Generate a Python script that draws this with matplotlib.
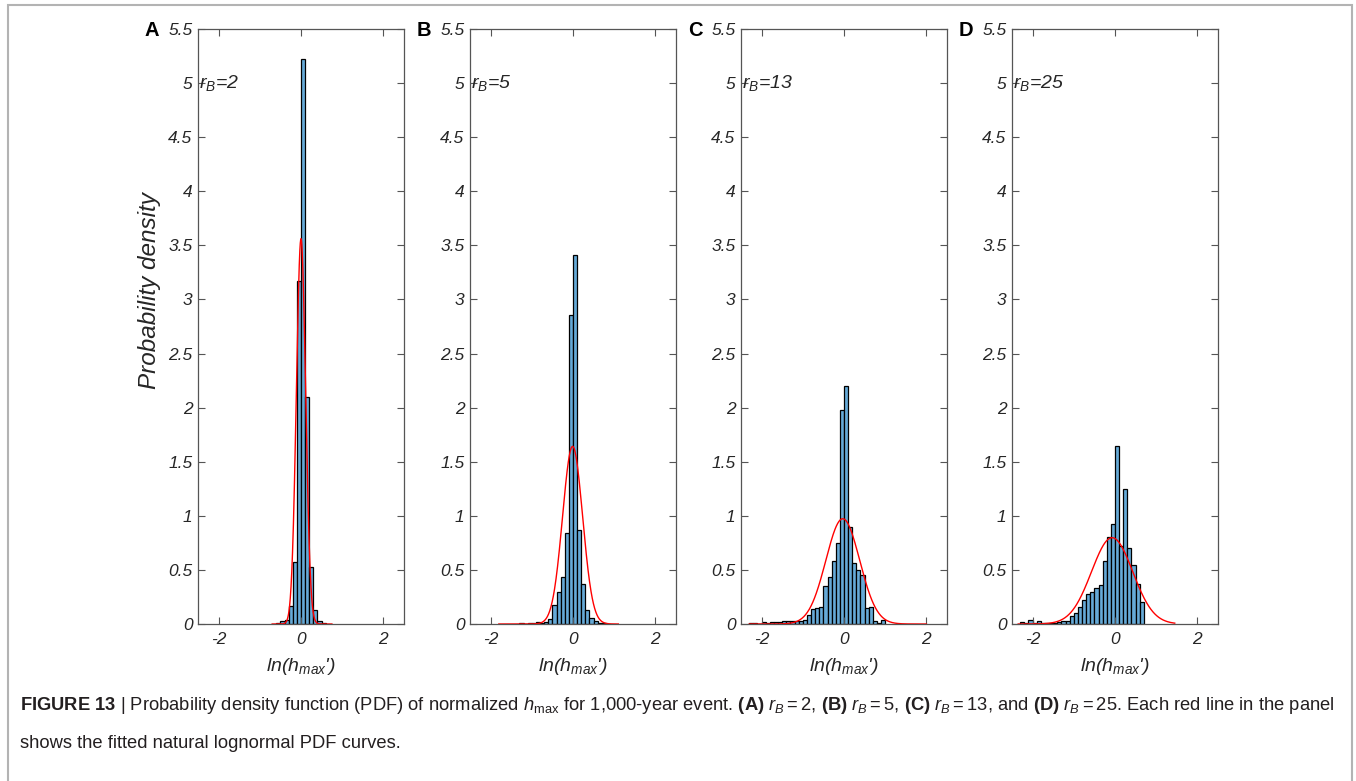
import numpy as np
import matplotlib.pyplot as plt
from matplotlib.patches import Rectangle

plt.rcParams['font.family'] = ['Liberation Sans', 'DejaVu Sans']
plt.rcParams['mathtext.fontset'] = 'custom'
plt.rcParams['mathtext.rm'] = 'Liberation Sans'
plt.rcParams['mathtext.it'] = 'Liberation Sans:italic'
plt.rcParams['mathtext.bf'] = 'Liberation Sans:bold'
plt.rcParams['axes.unicode_minus'] = False

# ---- data ----
panel_names = ['A', 'B', 'C', 'D']
r_b = [2, 5, 13, 25]
bin_w = 0.1

# histogram densities, first bin left edge + heights (bins 0.1 wide)
a_start = -0.6
a_dens = [0.01, 0.03, 0.04, 0.17, 0.57, 3.17, 5.22, 2.10, 0.53, 0.13, 0.03, 0.01]
b_start = -1.3
b_dens = [0.01, 0.0, 0.01, 0.01, 0.02, 0.01, 0.02, 0.05, 0.18, 0.30, 0.43, 0.84,
          2.86, 3.41, 0.87, 0.37, 0.13, 0.06, 0.03, 0.01, 0.01]
c_start = -2.3
c_dens = [0.01, 0.01, 0.0, 0.02, 0.01, 0.02, 0.02, 0.02, 0.03, 0.03, 0.03, 0.03,
          0.03, 0.04, 0.08, 0.14, 0.15, 0.16, 0.35, 0.43, 0.58, 0.75, 1.98, 2.20,
          0.90, 0.56, 0.50, 0.45, 0.15, 0.16, 0.03, 0.01, 0.04]
d_start = -2.3
d_dens = [0.02, 0.01, 0.04, 0.01, 0.03, 0.01, 0.01, 0.01, 0.01, 0.02, 0.03, 0.03,
          0.07, 0.10, 0.16, 0.22, 0.28, 0.30, 0.33, 0.36, 0.58, 0.80, 0.92, 1.65,
          0.72, 1.25, 0.70, 0.55, 0.37, 0.20]

# fitted normal (in ln space) parameters and drawn range
fit_mu = [0.0, -0.01, -0.03, -0.07]
fit_sigma = [0.112, 0.243, 0.41, 0.50]
fit_lo = [-0.7, -1.8, -2.3, -2.35]
fit_hi = [0.75, 1.1, 2.0, 1.45]

starts = [a_start, b_start, c_start, d_start]
dens = [a_dens, b_dens, c_dens, d_dens]

yticks = [0, 0.5, 1, 1.5, 2, 2.5, 3, 3.5, 4, 4.5, 5, 5.5]
ytick_labels = ['0', '0.5', '1', '1.5', '2', '2.5', '3', '3.5', '4', '4.5', '5', '5.5']
xticks = [-2, 0, 2]
xtick_labels = ['-2', '0', '2']

# ---- figure ----
W, H = 1356, 781
fig = plt.figure(figsize=(W / 100, H / 100), dpi=100)

ax_lefts = [198, 470, 741, 1012]
ax_w, ax_top, ax_bot = 206, 29, 624
txt_col = '#262626'

for i in range(4):
    ax = fig.add_axes([ax_lefts[i] / W, 1 - ax_bot / H, ax_w / W, (ax_bot - ax_top) / H])
    edges = starts[i] + bin_w * np.arange(len(dens[i]))
    ax.bar(edges, dens[i], width=bin_w, align='edge', color='#66aad7',
           edgecolor='black', linewidth=0.9)
    xs = np.linspace(fit_lo[i], fit_hi[i], 400)
    pdf = np.exp(-0.5 * ((xs - fit_mu[i]) / fit_sigma[i]) ** 2) / (fit_sigma[i] * np.sqrt(2 * np.pi))
    ax.plot(xs, pdf, color='red', lw=1.0)

    ax.set_xlim(-2.5, 2.5)
    ax.set_ylim(0, 5.5)
    ax.set_xticks(xticks)
    ax.set_xticklabels(xtick_labels)
    ax.set_yticks(yticks)
    ax.set_yticklabels(ytick_labels)
    ax.tick_params(direction='in', top=True, right=True, length=5, width=0.8,
                   color='#555555', labelcolor=txt_col, labelsize=12.5)
    ax.tick_params(axis='y', pad=4)
    ax.tick_params(axis='x', pad=6)
    for lbl in ax.get_xticklabels() + ax.get_yticklabels():
        lbl.set_fontstyle('italic')
    for sp in ax.spines.values():
        sp.set_color('#555555')
        sp.set_linewidth(0.9)

    ax.text(-2.47, 5.0, r'$r_B$=%d' % r_b[i], fontsize=14, fontstyle='italic',
            color=txt_col, ha='left', va='center')
    ax.text(0.5, -0.072, r"ln(h$_{\mathit{max}}$')", transform=ax.transAxes,
            fontsize=14, fontstyle='italic', color=txt_col, ha='center', va='center')
    fig.text((ax_lefts[i] - 46) / W, 1 - 30 / H, panel_names[i], fontsize=14.5,
             fontweight='bold', color='black', ha='center', va='center')
    if i == 0:
        ax.text(-0.235, 0.56, 'Probability density', transform=ax.transAxes,
                rotation=90, fontsize=17.5, fontstyle='italic', color=txt_col,
                ha='center', va='center')

# ---- caption ----
cap1 = (r"$\mathbf{FIGURE\ 13}$ | Probability density function (PDF) of normalized "
        r"$h_{\mathrm{max}}$ for 1,000-year event. $\mathbf{(A)}$ $r_B = 2$, "
        r"$\mathbf{(B)}$ $r_B = 5$, $\mathbf{(C)}$ $r_B = 13$, and $\mathbf{(D)}$ "
        r"$r_B = 25$. Each red line in the panel")
cap2 = "shows the fitted natural lognormal PDF curves."
t1 = fig.text(20 / W, 1 - 706 / H, cap1, fontsize=10.5, ha='left', va='center', color='#231f20')
t2 = fig.text(20 / W, 1 - 743 / H, cap2, fontsize=10.5, ha='left', va='center', color='#231f20')
fig.canvas.draw()
w1 = t1.get_window_extent().width
fs = 10.5 * 1320 / w1
t1.set_fontsize(fs)
t2.set_fontsize(fs)

# page frame
fig.patches.append(Rectangle((8 / W, -0.05), (1352 - 8) / W, 1 - 5 / H + 0.05,
                             transform=fig.transFigure, fill=False,
                             edgecolor='#b3b3b3', lw=1.5))

fig.savefig('out.png', dpi=100)
